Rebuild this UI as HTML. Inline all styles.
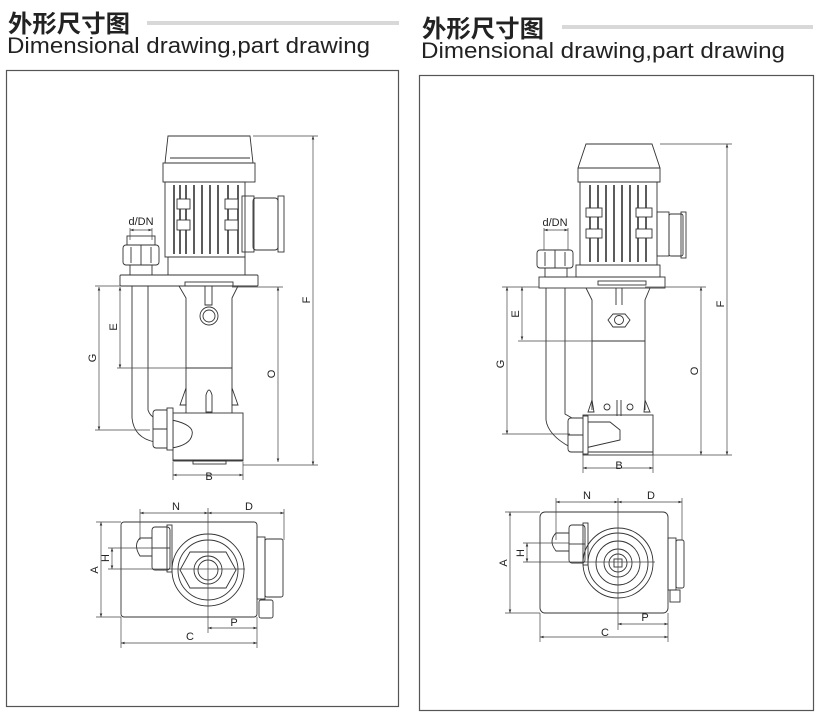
<!DOCTYPE html>
<html><head><meta charset="utf-8"><style>
html,body{margin:0;padding:0;background:#fff;}
body{width:835px;height:723px;position:relative;overflow:hidden;}
svg{position:absolute;left:0;top:0;}
.t{font-family:"Liberation Sans",sans-serif;}
</style></head><body>
<svg width="835" height="723" viewBox="0 0 835 723" xmlns="http://www.w3.org/2000/svg">
<defs>
<marker id="a" viewBox="0 0 6 6" refX="6" refY="3" markerWidth="5" markerHeight="5" orient="auto-start-reverse"><path d="M0,0.8 L6,3 L0,5.2 Z" fill="#333"/></marker>
</defs>
<!-- headers -->
<text x="8" y="32" font-family="'Noto Sans CJK SC',sans-serif" font-weight="bold" font-size="24" fill="#222" textLength="122" lengthAdjust="spacingAndGlyphs">外形尺寸图</text>
<rect x="147" y="21" width="252" height="4" fill="#d8d8d8"/>
<text x="7" y="53" font-size="22.5" fill="#222" font-family="'Liberation Sans','DejaVu Sans',sans-serif" textLength="363" lengthAdjust="spacingAndGlyphs">Dimensional drawing,part drawing</text>
<text x="422" y="37" font-family="'Noto Sans CJK SC',sans-serif" font-weight="bold" font-size="24" fill="#222" textLength="122" lengthAdjust="spacingAndGlyphs">外形尺寸图</text>
<rect x="562" y="25" width="251" height="4" fill="#d8d8d8"/>
<text x="421" y="58" font-size="22.5" fill="#222" font-family="'Liberation Sans','DejaVu Sans',sans-serif" textLength="364" lengthAdjust="spacingAndGlyphs">Dimensional drawing,part drawing</text>
<rect x="6.5" y="70.5" width="392" height="636" fill="none" stroke="#555" stroke-width="1.2"/>
<rect x="419.5" y="75.5" width="394" height="635" fill="none" stroke="#555" stroke-width="1.2"/>

<g fill="none" stroke="#333" stroke-width="0.9">
<!-- ===== LEFT PUMP ===== -->
<path d="M168,136 L250,136 L253,163 L165,163 Z" fill="#fff"/>
<line x1="170" y1="158" x2="250" y2="158"/>
<rect x="163" y="163" width="92" height="19"/>
<rect x="165" y="182" width="80" height="75"/>
<g stroke-width="1.6"><line x1="174" y1="185" x2="174" y2="254"/><line x1="180" y1="185" x2="180" y2="254"/><line x1="186" y1="185" x2="186" y2="254"/><line x1="194" y1="185" x2="194" y2="254"/><line x1="202" y1="185" x2="202" y2="254"/><line x1="210" y1="185" x2="210" y2="254"/><line x1="218" y1="185" x2="218" y2="254"/><line x1="228" y1="185" x2="228" y2="254"/><line x1="238" y1="185" x2="238" y2="254"/></g>
<rect x="177" y="199" width="13" height="10" fill="#fff"/><rect x="177" y="220" width="13" height="10" fill="#fff"/>
<rect x="225" y="199" width="13" height="10" fill="#fff"/><rect x="225" y="220" width="13" height="10" fill="#fff"/>
<rect x="242" y="196" width="12" height="56"/>
<rect x="253" y="198" width="25" height="52" rx="3"/>
<rect x="278" y="196" width="6" height="56"/>
<rect x="168" y="257" width="77" height="18"/>
<rect x="120" y="275" width="138" height="11" rx="1"/>
<rect x="185" y="282" width="48" height="4"/>
<rect x="123" y="245" width="36" height="20" rx="3"/>
<line x1="141" y1="245" x2="141" y2="265"/><line x1="131" y1="247" x2="131" y2="263"/><line x1="151" y1="247" x2="151" y2="263"/>
<rect x="127" y="236" width="28" height="9"/>
<rect x="130" y="265" width="22" height="10"/>
<path d="M179,286 L186,298 L186,413 M238,286 L232,298 L232,413"/>
<line x1="186" y1="368" x2="232" y2="368"/>
<path d="M205,286 L205,305 L212,305 L212,286"/>
<circle cx="209" cy="316" r="9"/><circle cx="209" cy="316" r="6"/>
<path d="M186,388 L180,405 L186,405 Z M232,388 L238,405 L232,405 Z M206,395 Q209,385 212,395 L212,412 L206,412 Z"/>
<path d="M132,286 L132,418 Q134,438 155,442 M148,286 L148,410 Q150,416 155,418"/>
<rect x="173" y="413" width="70" height="48"/>
<line x1="173" y1="460" x2="243" y2="460"/>
<rect x="193" y="461" width="33" height="3"/>
<path d="M172,420 Q195,425 192,435 Q190,445 172,448"/>
<rect x="153" y="410" width="18" height="38" rx="3" fill="#fff"/>
<line x1="153" y1="429" x2="171" y2="429"/><rect x="167" y="408" width="6" height="42" fill="#fff"/>
<g stroke="#444" stroke-width="0.7">
<line x1="253" y1="136" x2="318" y2="136"/><line x1="313" y1="136" x2="313" y2="465" marker-start="url(#a)" marker-end="url(#a)"/>
<line x1="243" y1="465" x2="318" y2="465"/>
<line x1="232" y1="287" x2="283" y2="287"/><line x1="278" y1="287" x2="278" y2="462" marker-start="url(#a)" marker-end="url(#a)"/>
<line x1="95" y1="286" x2="120" y2="286"/><line x1="99" y1="287" x2="99" y2="430" marker-start="url(#a)" marker-end="url(#a)"/>
<line x1="95" y1="430" x2="150" y2="430"/>
<line x1="120" y1="287" x2="120" y2="368" marker-start="url(#a)" marker-end="url(#a)"/><line x1="117" y1="368" x2="186" y2="368"/>
<line x1="173" y1="462" x2="173" y2="480"/><line x1="243" y1="462" x2="243" y2="480"/>
<line x1="173" y1="475" x2="243" y2="475" marker-start="url(#a)" marker-end="url(#a)"/>
<line x1="130" y1="228" x2="130" y2="240"/><line x1="152" y1="228" x2="152" y2="240"/>
<line x1="130" y1="230" x2="152" y2="230" marker-start="url(#a)" marker-end="url(#a)"/>
</g>
<rect x="121" y="522" width="136" height="95" rx="3"/>
<circle cx="208" cy="570" r="36"/><circle cx="208" cy="570" r="30"/>
<path d="M190,552 L226,552 L236,570 L226,588 L190,588 L180,570 Z"/>
<circle cx="208" cy="570" r="14"/><circle cx="208" cy="570" r="10"/>
<rect x="152" y="527" width="18" height="43" rx="3"/><line x1="152" y1="548" x2="170" y2="548"/><rect x="167" y="525" width="5" height="47"/>
<path d="M152,538 L140,538 Q133,545 140,556 L152,556"/>
<rect x="257" y="537" width="8" height="62"/><rect x="265" y="539" width="18" height="58" rx="2"/>
<rect x="259" y="600" width="14" height="18" rx="2"/>
<g stroke="#444" stroke-width="0.7">
<line x1="140" y1="509" x2="140" y2="540"/><line x1="208" y1="508" x2="208" y2="633"/><line x1="284" y1="509" x2="284" y2="540"/>
<line x1="140" y1="513" x2="208" y2="513" marker-start="url(#a)" marker-end="url(#a)"/>
<line x1="208" y1="513" x2="284" y2="513" marker-start="url(#a)" marker-end="url(#a)"/>
<line x1="96" y1="522" x2="121" y2="522"/><line x1="96" y1="617" x2="121" y2="617"/>
<line x1="101" y1="522" x2="101" y2="617" marker-start="url(#a)" marker-end="url(#a)"/>
<line x1="108" y1="548" x2="170" y2="548"/><line x1="108" y1="569" x2="245" y2="569"/>
<line x1="112" y1="548" x2="112" y2="569" marker-start="url(#a)" marker-end="url(#a)"/>
<line x1="257" y1="617" x2="257" y2="648"/><line x1="121" y1="617" x2="121" y2="648"/>
<line x1="208" y1="628" x2="257" y2="628" marker-start="url(#a)" marker-end="url(#a)"/>
<line x1="121" y1="643" x2="257" y2="643" marker-start="url(#a)" marker-end="url(#a)"/>
</g>

<!-- ===== RIGHT PUMP ===== -->
<path d="M586,144 L652,144 L660,168 L660,182 L578,182 L578,168 Z" fill="#fff"/>
<line x1="578" y1="168" x2="660" y2="168"/>
<rect x="580" y="182" width="77" height="83"/>
<g stroke-width="1.6"><line x1="590" y1="185" x2="590" y2="262"/><line x1="598" y1="185" x2="598" y2="262"/><line x1="606" y1="185" x2="606" y2="262"/><line x1="614" y1="185" x2="614" y2="262"/><line x1="622" y1="185" x2="622" y2="262"/><line x1="630" y1="185" x2="630" y2="262"/><line x1="638" y1="185" x2="638" y2="262"/><line x1="646" y1="185" x2="646" y2="262"/></g>
<rect x="586" y="208" width="16" height="9" fill="#fff"/><rect x="586" y="229" width="16" height="9" fill="#fff"/>
<rect x="636" y="208" width="16" height="9" fill="#fff"/><rect x="636" y="229" width="16" height="9" fill="#fff"/>
<rect x="657" y="212" width="12" height="44"/><rect x="669" y="214" width="14" height="42" rx="2"/><rect x="681" y="212" width="5" height="46"/>
<rect x="576" y="265" width="84" height="12"/>
<rect x="539" y="277" width="126" height="11"/>
<rect x="598" y="281" width="48" height="4"/>
<rect x="537" y="250" width="36" height="18" rx="3"/><line x1="555" y1="250" x2="555" y2="268"/><line x1="545" y1="252" x2="545" y2="266"/><line x1="565" y1="252" x2="565" y2="266"/>
<rect x="545" y="268" width="22" height="9"/>
<path d="M586,288 L592,300 L592,410 M650,288 L645,300 L645,410"/>
<line x1="592" y1="341" x2="645" y2="341"/>
<path d="M616,288 L616,305 M622,288 L622,305"/>
<path d="M613,314 L625,314 L630,320 L625,327 L613,327 L608,320 Z"/><circle cx="619" cy="320" r="4.5"/>
<path d="M592,400 L588,412 L594,412 Z M645,400 L650,412 L644,412 Z M617,400 L617,416 M621,400 L621,416"/>
<circle cx="607" cy="407" r="3"/><circle cx="630" cy="407" r="3"/>
<path d="M546,288 L546,420 Q548,435 570,447 M565,288 L565,414 L572,418"/>
<rect x="583" y="415" width="70" height="40"/><line x1="583" y1="452" x2="653" y2="452"/>
<path d="M585,422 L610,422 L620,430 L620,440 L585,448"/>
<rect x="568" y="418" width="17" height="34" rx="3" fill="#fff"/><line x1="568" y1="435" x2="585" y2="435"/><rect x="583" y="416" width="5" height="38" fill="#fff"/>
<g stroke="#444" stroke-width="0.7">
<line x1="660" y1="144" x2="732" y2="144"/><line x1="727" y1="144" x2="727" y2="455" marker-start="url(#a)" marker-end="url(#a)"/>
<line x1="653" y1="455" x2="732" y2="455"/>
<line x1="645" y1="287" x2="706" y2="287"/><line x1="701" y1="287" x2="701" y2="455" marker-start="url(#a)" marker-end="url(#a)"/>
<line x1="502" y1="287" x2="539" y2="287"/><line x1="507" y1="287" x2="507" y2="434" marker-start="url(#a)" marker-end="url(#a)"/>
<line x1="502" y1="434" x2="570" y2="434"/>
<line x1="522" y1="287" x2="522" y2="340" marker-start="url(#a)" marker-end="url(#a)"/><line x1="518" y1="341" x2="592" y2="341"/>
<line x1="583" y1="455" x2="583" y2="473"/><line x1="653" y1="455" x2="653" y2="473"/>
<line x1="583" y1="468" x2="653" y2="468" marker-start="url(#a)" marker-end="url(#a)"/>
<line x1="544" y1="228" x2="544" y2="250"/><line x1="568" y1="228" x2="568" y2="250"/>
<line x1="544" y1="230" x2="568" y2="230" marker-start="url(#a)" marker-end="url(#a)"/>
</g>
<rect x="540" y="512" width="128" height="101" rx="5"/>
<circle cx="618" cy="563" r="35"/><circle cx="618" cy="563" r="30"/><circle cx="618" cy="563" r="22"/><circle cx="618" cy="563" r="14"/><circle cx="618" cy="563" r="9"/>
<rect x="614" y="559" width="8" height="8"/>
<rect x="569" y="525" width="16" height="38" rx="3"/><line x1="569" y1="544" x2="585" y2="544"/><rect x="583" y="523" width="5" height="42"/>
<path d="M569,533 L556,533 Q548,541 556,551 L569,551"/>
<rect x="668" y="538" width="8" height="52"/><rect x="676" y="540" width="8" height="48" rx="2"/>
<rect x="670" y="590" width="10" height="12"/>
<g stroke="#444" stroke-width="0.7">
<line x1="556" y1="498" x2="556" y2="540"/><line x1="618" y1="498" x2="618" y2="630"/><line x1="682" y1="498" x2="682" y2="540"/>
<line x1="556" y1="502" x2="618" y2="502" marker-start="url(#a)" marker-end="url(#a)"/>
<line x1="618" y1="502" x2="682" y2="502" marker-start="url(#a)" marker-end="url(#a)"/>
<line x1="505" y1="512" x2="540" y2="512"/><line x1="505" y1="613" x2="540" y2="613"/>
<line x1="510" y1="512" x2="510" y2="613" marker-start="url(#a)" marker-end="url(#a)"/>
<line x1="523" y1="543" x2="569" y2="543"/><line x1="523" y1="562" x2="655" y2="562"/>
<line x1="527" y1="543" x2="527" y2="562" marker-start="url(#a)" marker-end="url(#a)"/>
<line x1="540" y1="613" x2="540" y2="642"/><line x1="668" y1="613" x2="668" y2="642"/>
<line x1="618" y1="624" x2="668" y2="624" marker-start="url(#a)" marker-end="url(#a)"/>
<line x1="540" y1="637" x2="668" y2="637" marker-start="url(#a)" marker-end="url(#a)"/>
</g>
</g>
<g font-family="'Liberation Sans',sans-serif" font-size="11" fill="#222" text-anchor="middle">
<text x="141" y="225">d/DN</text>
<text x="209" y="480">B</text>
<text x="176" y="510">N</text><text x="249" y="510">D</text>
<text x="234" y="626">P</text><text x="190" y="640">C</text>
<text x="555" y="226">d/DN</text>
<text x="619" y="469">B</text>
<text x="587" y="499">N</text><text x="651" y="499">D</text>
<text x="645" y="621">P</text><text x="605" y="636">C</text>
<text transform="translate(310,300) rotate(-90)">F</text>
<text transform="translate(275,374) rotate(-90)">O</text>
<text transform="translate(96,358) rotate(-90)">G</text>
<text transform="translate(117,327) rotate(-90)">E</text>
<text transform="translate(98,570) rotate(-90)">A</text>
<text transform="translate(109,558) rotate(-90)">H</text>
<text transform="translate(724,304) rotate(-90)">F</text>
<text transform="translate(698,371) rotate(-90)">O</text>
<text transform="translate(504,364) rotate(-90)">G</text>
<text transform="translate(519,314) rotate(-90)">E</text>
<text transform="translate(507,563) rotate(-90)">A</text>
<text transform="translate(524,553) rotate(-90)">H</text>
</g>
</svg>
</body></html>
